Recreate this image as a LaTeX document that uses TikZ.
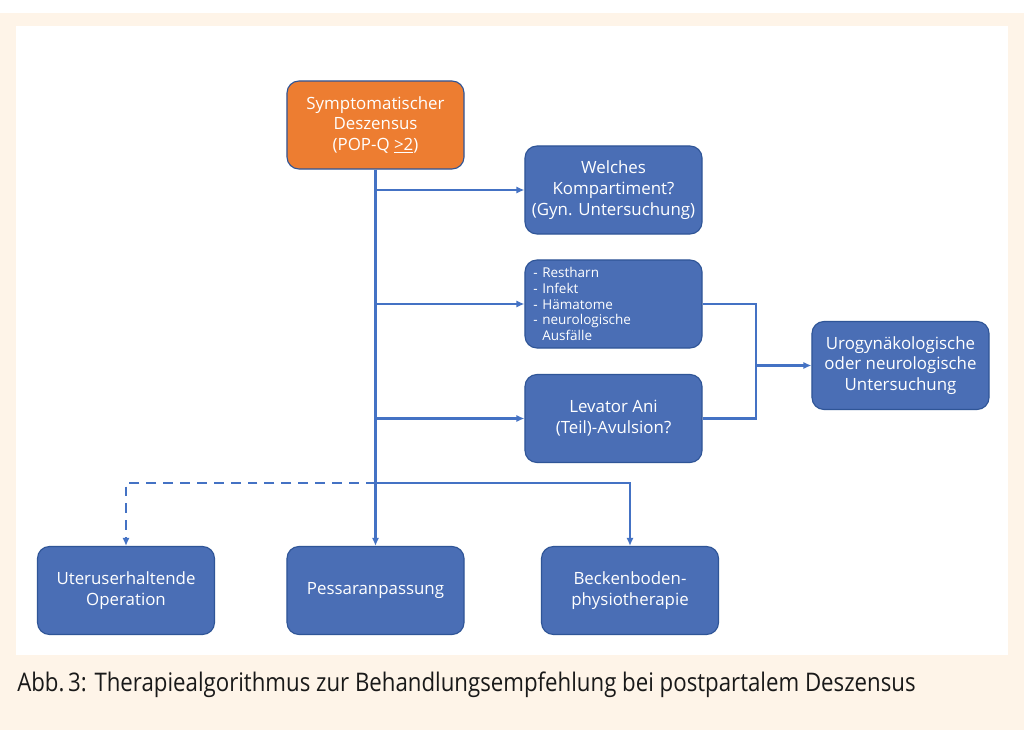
\documentclass[tikz,border=0pt]{standalone}
\usepackage{fontspec}
\setmainfont{Open Sans}
\usepackage{xcolor}
\usepackage{graphicx}
\usetikzlibrary{arrows.meta, positioning}

\definecolor{boxblue}{HTML}{4A6EB5}
\definecolor{boxedge}{HTML}{2F5597}
\definecolor{flowblue}{HTML}{4472C4}
\definecolor{symorange}{HTML}{ED7D31}
\definecolor{cream}{HTML}{FEF4E8}

\begin{document}
\begin{tikzpicture}[x=0.025cm, y=-0.025cm,
  box/.style={draw=boxedge, line width=0.8pt, fill=boxblue, text=white, rounded corners=0.3cm,
    align=center, minimum width=4.425cm, minimum height=2.2cm, inner sep=2pt,
    font=\fontsize{12}{14.8}\selectfont},
  flow/.style={draw=flowblue, line width=1.8pt, -{Latex[length=2mm,width=1.8mm]}},
  link/.style={draw=flowblue, line width=1.8pt}]
\useasboundingbox (0,0) rectangle (1024,735);
\fill[white] (0,0) rectangle (1024,735);
\fill[cream] (0,13) rectangle (1024,730);
\fill[white] (16,26) rectangle (1008,655);

% boxes
\node[box, fill=symorange] (sympt) at (375.5,125) {Symptomatischer\\Deszensus\\(POP-Q \underline{>2})};
\node[box] (welches) at (613.5,190) {Welches\\Kompartiment?\\(Gyn. Untersuchung)};
\node[box, align=left, text width=4.0cm, inner xsep=0.2cm, font=\fontsize{9.6}{11.2}\selectfont]
  (liste) at (613.5,304) {- Restharn\\- Infekt\\- Hämatome\\- neurologische\\\hphantom{-\ }Ausfälle};
\node[box] (levator) at (613.5,418.5) {Levator Ani\\(Teil)-Avulsion?};
\node[box] (urogyn) at (900.5,365.5) {Urogynäkologische\\oder neurologische\\Untersuchung};
\node[box] (uterus) at (126,590.5) {Uteruserhaltende\\Operation};
\node[box] (pessar) at (375.5,590.5) {Pessaranpassung};
\node[box] (becken) at (630,590.5) {Beckenboden-\\physiotherapie};

\coordinate (join) at (756,365.5);
\coordinate (split) at (375.5,483);

% connectors
\draw[flow] (sympt.south) -- (pessar.north);
\draw[flow] (sympt.south |- welches) -- (welches.west);
\draw[flow] (sympt.south |- liste) -- (liste.west);
\draw[flow] (sympt.south |- levator) -- (levator.west);
\draw[link] (liste.east) -| (join);
\draw[link] (levator.east) -| (join);
\draw[flow] (join) -- (urogyn.west);
\draw[flow] (split) -| (becken.north);
\draw[flow, dash pattern=on 7pt off 5pt] (split) -| (uterus.north);

% caption
\node[anchor=base west, inner sep=0pt, text=black!90] (caption) at (17,691)
  {\resizebox{22.45cm}{0.49cm}{Abb.\,3: Therapiealgorithmus zur Behandlungsempfehlung bei postpartalem Deszensus}};
\end{tikzpicture}
\end{document}
